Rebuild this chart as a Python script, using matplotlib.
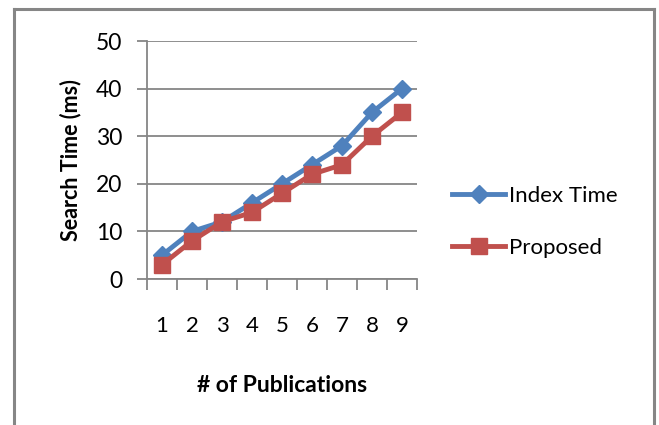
import matplotlib.pyplot as plt
from matplotlib.lines import Line2D

pubs = [1, 2, 3, 4, 5, 6, 7, 8, 9]
index_time = [5, 10, 12, 16, 20, 24, 28, 35, 40]
proposed = [3, 8, 12, 14, 18, 22, 24, 30, 35]

blue = "#4F81BD"
red = "#C0504D"
grey = "#868686"

plt.rcParams["font.family"] = ["Lato", "DejaVu Sans"]

fig = plt.figure(figsize=(6.59, 4.25), dpi=100)
ax = fig.add_axes([147 / 659, 1 - 279 / 425, 270 / 659, 238 / 425])

ax.plot(pubs, index_time, color=blue, lw=3.5, marker="D", ms=9,
        label="Index Time", zorder=3)
ax.plot(pubs, proposed, color=red, lw=3.5, marker="s", ms=11,
        label="Proposed", zorder=4)

ax.set_xlim(0.5, 9.5)
ax.set_ylim(0, 50)
ax.set_yticks(range(0, 51, 10))
ax.set_xticks(pubs)
ax.set_xticks([x + 0.5 for x in range(0, 10)], minor=True)
ax.tick_params(axis="x", which="major", length=0, pad=27, labelsize=16)
ax.tick_params(axis="x", which="minor", length=8, width=1.3, color=grey)
ax.tick_params(axis="y", length=7, width=1.3, color=grey, pad=11, labelsize=16.5)

ax.grid(axis="y", color=grey, lw=1.3)
ax.set_axisbelow(True)
for s in ["top", "right"]:
    ax.spines[s].set_visible(False)
for s in ["left", "bottom"]:
    ax.spines[s].set_color(grey)
    ax.spines[s].set_linewidth(1.3)

ax.set_ylabel("Search Time (ms)", fontsize=15.5, fontweight="bold", labelpad=10)
ax.set_xlabel("# of Publications", fontsize=16.5, fontweight="bold", labelpad=28)

ax.legend(loc="center left", bbox_to_anchor=(1.13, 0.24), frameon=False,
          fontsize=16, handlelength=2.4, handletextpad=0.15, labelspacing=1.45,
          borderpad=0, borderaxespad=0)

# chart frame
f = fig.transFigure
fig.add_artist(Line2D([13.5 / 659, 13.5 / 659], [0, 1 - 8.5 / 425],
                      color=grey, lw=2.2, transform=f))
fig.add_artist(Line2D([13.5 / 659, 653.5 / 659], [1 - 8.5 / 425, 1 - 8.5 / 425],
                      color=grey, lw=2.2, transform=f))
fig.add_artist(Line2D([653.5 / 659, 653.5 / 659], [1 - 8.5 / 425, 0],
                      color=grey, lw=2.2, transform=f))

fig.savefig("out.png", dpi=100)
